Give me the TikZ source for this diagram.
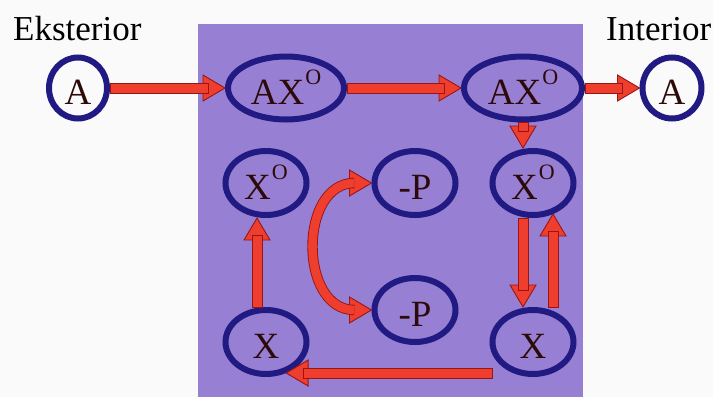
\documentclass[tikz,border=0pt]{standalone}
\usepackage{fontspec}
\setmainfont{Liberation Serif}
\usetikzlibrary{shapes.geometric,calc}
\definecolor{bgpurple}{RGB}{151,128,212}
\definecolor{ringblue}{RGB}{32,26,130}
\definecolor{arrred}{RGB}{240,62,46}
\definecolor{arredge}{RGB}{150,22,22}
\definecolor{txtcol}{RGB}{45,10,10}
\definecolor{paper}{RGB}{250,250,250}
\tikzset{
 ringnode/.style={ellipse, draw=ringblue, line width=6pt, inner sep=0pt, text=txtcol,
   font=\fontsize{37}{37}\selectfont, text height=33pt, text depth=0pt},
 bignode/.style={ringnode, minimum width=116pt, minimum height=63pt},
 smallnode/.style={ringnode, minimum width=81pt, minimum height=64pt},
 circnode/.style={ringnode, minimum width=58pt, minimum height=61pt},
 blockarrow/.style={fill=arrred, draw=arredge, line width=0.9pt, line join=miter},
 curveshaft/.style={draw=arredge, line width=0.9pt, double=arrred, double distance=8.6pt},
 heading/.style={font=\fontsize{35}{35}\selectfont, text=black, inner sep=0pt}
}
% block arrow from #1 to tip #2
\newcommand\blockarr[2]{%
 \path[blockarrow] let \p1=(#1), \p2=(#2), \n1={atan2(\y2-\y1,\x2-\x1)} in
   (\p2) -- ($(\p2)+(\n1+180:22pt)+(\n1+90:13pt)$) -- ($(\p2)+(\n1+180:22pt)+(\n1-90:13pt)$) -- cycle;
 \path[blockarrow] let \p1=(#1), \p2=(#2), \n1={atan2(\y2-\y1,\x2-\x1)} in
   ($(\p1)+(\n1+90:5pt)$) -- ($(\p2)+(\n1+180:17pt)+(\n1+90:5pt)$) -- ($(\p2)+(\n1+180:17pt)+(\n1-90:5pt)$) -- ($(\p1)+(\n1-90:5pt)$) -- cycle;}
% arrow head with tip #1 pointing at angle #2
\newcommand\ahead[2]{%
 \path[blockarrow] (#1) -- ($(#1)+(#2+180:22pt)+(#2+90:13pt)$) -- ($(#1)+(#2+180:22pt)+(#2-90:13pt)$) -- cycle;}
\newcommand\supO{\kern1pt\raisebox{20pt}{\fontsize{22}{22}\selectfont O}}
\begin{document}
\begin{tikzpicture}[x=1pt,y=-1pt]
\fill[paper] (0,0) rectangle (713,397);
\useasboundingbox (0,0) rectangle (713,397);
\fill[bgpurple] (198,24) rectangle (583,397);
\node[heading, anchor=base west] (ext) at (13,40) {Eksterior};
\node[heading, anchor=base west] (int) at (606,40) {Interior};
\node[circnode] (A1) at (78,88) {A};
\node[bignode] (AX1) at (286,88) {AX\supO};
\node[bignode, minimum width=118pt] (AX2) at (523,88) {AX\supO};
\node[circnode, minimum width=59pt] (A2) at (672,88) {A};
\node[smallnode] (XoL) at (266,183) {X\supO};
\node[smallnode] (tP) at (415,183) {-P};
\node[smallnode] (bP) at (415,310) {-P};
\node[smallnode] (XL) at (266,342) {X};
\node[smallnode] (XoR) at (533,183) {X\supO};
\node[smallnode] (XR) at (533,342) {X};
\blockarr{A1.east}{AX1.west}
\blockarr{AX1.east}{AX2.west}
\blockarr{AX2.east}{A2.west}
\blockarr{AX2.south}{AX2.south |- XoR.north}
\blockarr{[xshift=-10pt]XoR.south}{[xshift=-10pt]XR.north}
\blockarr{[xshift=20pt]XR.north}{[xshift=20pt,yshift=4pt]XoR.south}
\blockarr{[xshift=-9pt]XL.north}{[xshift=-9pt]XoL.south}
\blockarr{[xshift=-20pt]XR.237}{XL.-57}
\ahead{tP.west}{0}
\ahead{bP.west}{0}
\draw[curveshaft] ($(tP.west)+(-17,0)$) .. controls +(-56,0) and +(-56,0) .. ($(bP.west)+(-17,0)$);
\end{tikzpicture}
\end{document}
